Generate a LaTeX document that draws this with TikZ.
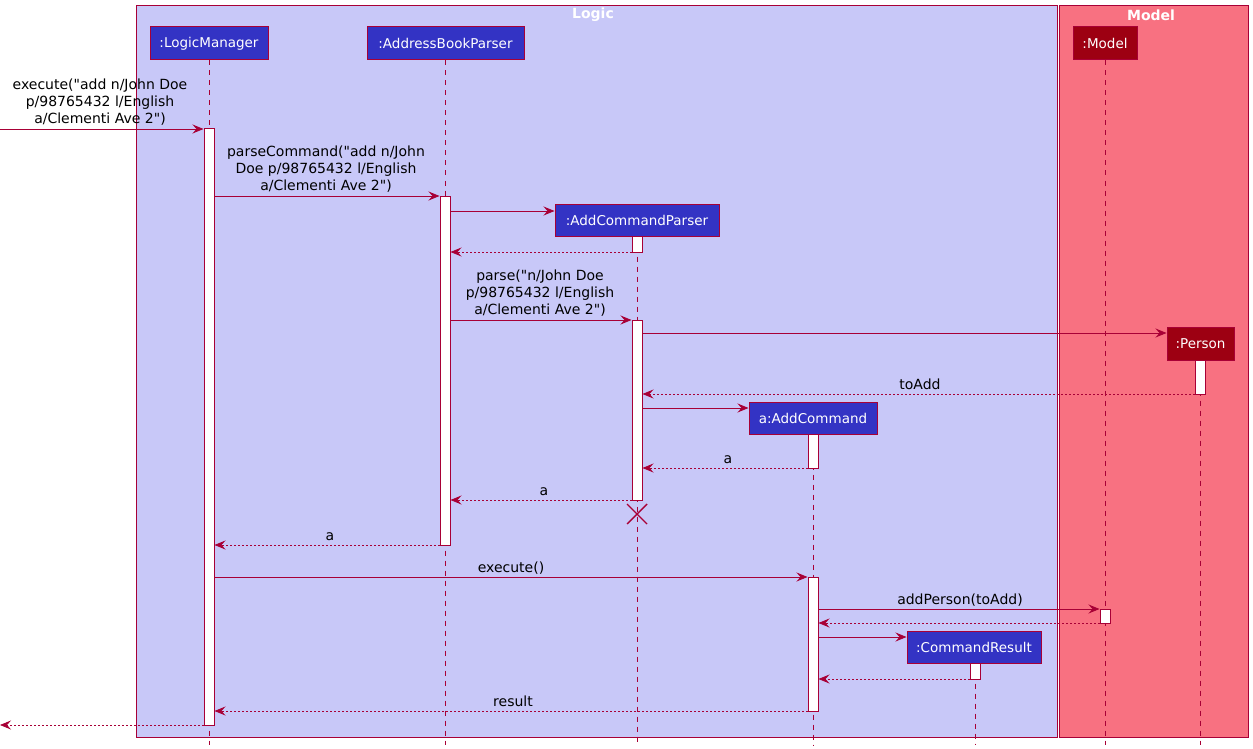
\documentclass[tikz,border=0pt]{standalone}
\usepackage{fontspec}
\setmainfont{DejaVu Sans}
\usetikzlibrary{arrows.meta}
\definecolor{bord}{HTML}{A80036}
\definecolor{logicbg}{HTML}{C8C8F8}
\definecolor{modelbg}{HTML}{F87181}
\definecolor{lpartc}{HTML}{3333C4}
\definecolor{mpartc}{HTML}{9D0012}
\newcommand{\qq}{\textquotedbl}
\tikzset{
  frame/.style={draw=bord, line width=1pt},
  ftitle/.style={text=white, font=\fontsize{14}{16}\selectfont\bfseries},
  part/.style={draw=bord, line width=1pt, text=white, minimum height=33pt, inner xsep=6pt, inner ysep=0pt, font=\fontsize{13.5}{16}\selectfont},
  lpart/.style={part, fill=lpartc},
  mpart/.style={part, fill=mpartc},
  life/.style={draw=bord, line width=0.8pt, dash pattern=on 5pt off 5pt},
  act/.style={draw=bord, fill=white, line width=1pt, minimum width=10pt, inner sep=0pt},
  msg/.style={draw=bord, line width=0.8pt, -{Stealth[length=11pt,width=9pt,inset=4pt]}},
  ret/.style={msg, dash pattern=on 2pt off 2pt},
  mlbl/.style={align=center, inner sep=0pt, anchor=south},
  slbl/.style={inner sep=0pt, anchor=base},
}
\begin{document}
\begin{tikzpicture}[x=1pt, y=-1pt, font=\fontsize{14}{17}\selectfont]
\useasboundingbox (0,0) rectangle (1253,749);
% frames
\filldraw[frame, fill=logicbg] (136,6) rectangle (1057,737);
\filldraw[frame, fill=modelbg] (1059,6) rectangle (1248,737);
\node[ftitle] (tlogic) at (593,15) {Logic};
\node[ftitle] (tmodel) at (1151,15) {Model};
% participants
\node[lpart, minimum width=118pt] (lm) at (209,43.5) {:LogicManager};
\node[lpart, minimum width=157pt] (abp) at (445.5,43.5) {:AddressBookParser};
\node[lpart, minimum width=164pt, minimum height=32pt] (acp) at (637,220) {:AddCommandParser};
\node[lpart, minimum width=128pt, minimum height=32pt] (ac) at (813,418) {a:AddCommand};
\node[lpart, minimum width=134pt, minimum height=32pt] (cr) at (974,647) {:CommandResult};
\node[mpart, minimum width=64pt] (mod) at (1105,43.5) {:Model};
\node[mpart, minimum width=67pt] (per) at (1200.5,343.5) {:Person};
% lifeline ends
\coordinate (lmE) at (209,745);
\coordinate (abpE) at (445,745);
\coordinate (acpE) at (637,745);
\coordinate (acE) at (813,745);
\coordinate (crE) at (975,745);
\coordinate (modE) at (1105,745);
\coordinate (perE) at (1200,745);
\draw[life] (lm.south -| lmE) -- (lmE);
\draw[life] (abp.south -| abpE) -- (abpE);
\draw[life] (acp.south -| acpE) -- (acpE);
\draw[life] (ac.south -| acE) -- (acE);
\draw[life] (cr.south -| crE) -- (crE);
\draw[life] (mod.south -| modE) -- (modE);
\draw[life] (per.south -| perE) -- (perE);
% activations
\node[act, minimum height=596pt] (lm1) at (209,427) {};
\node[act, minimum height=349pt] (abp1) at (445,370.5) {};
\node[act, minimum height=16pt] (acp1) at (637,244) {};
\node[act, minimum height=180pt] (acp2) at (637,410) {};
\node[act, minimum height=34pt] (per1) at (1200,377) {};
\node[act, minimum height=34pt] (ac1) at (813,451) {};
\node[act, minimum height=134pt] (ac2) at (813,644) {};
\node[act, minimum height=14pt] (mod1) at (1105,616) {};
\node[act, minimum height=16pt] (cr1) at (975,671) {};
% destroy
\coordinate (x1) at (627,504);
\coordinate (x2) at (647,524);
\coordinate (x3) at (627,524);
\coordinate (x4) at (647,504);
\draw[draw=bord, line width=1.4pt] (x1) -- (x2) (x3) -- (x4);
% messages
\coordinate (in) at (0,129);
\coordinate (out) at (0,725);
\draw[msg] (in) -- (lm1.west |- in);
\node[mlbl] (l1) at (100,126) {execute(\qq add n/John Doe\\p/98765432 l/English\\a/Clementi Ave 2\qq)};
\draw[msg] (lm1.east |- 0,196) -- (abp1.west |- 0,196);
\node[mlbl] (l2) at (326,193) {parseCommand(\qq add n/John\\Doe p/98765432 l/English\\a/Clementi Ave 2\qq)};
\draw[msg] (abp1.east |- 0,211) -- (acp.west |- 0,211);
\draw[ret] (acp1.west |- 0,252) -- (abp1.east |- 0,252);
\draw[msg] (abp1.east |- 0,320) -- (acp2.west |- 0,320);
\node[mlbl] (l3) at (540,317) {parse(\qq n/John Doe\\p/98765432 l/English\\a/Clementi Ave 2\qq)};
\draw[msg] (acp2.east |- 0,333) -- (per.west |- 0,333);
\draw[ret] (per1.west |- 0,394) -- (acp2.east |- 0,394);
\node[slbl] (l4) at (920,389) {toAdd};
\draw[msg] (acp2.east |- 0,408) -- (ac.west |- 0,408);
\draw[ret] (ac1.west |- 0,468) -- (acp2.east |- 0,468);
\node[slbl] (l5) at (728,463) {a};
\draw[ret] (acp2.west |- 0,500) -- (abp1.east |- 0,500);
\node[slbl] (l6) at (544,495) {a};
\draw[ret] (abp1.west |- 0,545) -- (lm1.east |- 0,545);
\node[slbl] (l7) at (330,540) {a};
\draw[msg] (lm1.east |- 0,577) -- (ac2.west |- 0,577);
\node[slbl] (l8) at (511,572) {execute()};
\draw[msg] (ac2.east |- 0,609) -- (mod1.west |- 0,609);
\node[slbl] (l9) at (960,604) {addPerson(toAdd)};
\draw[ret] (mod1.west |- 0,623) -- (ac2.east |- 0,623);
\draw[msg] (ac2.east |- 0,637) -- (cr.west |- 0,637);
\draw[ret] (cr1.west |- 0,679) -- (ac2.east |- 0,679);
\draw[ret] (ac2.west |- 0,711) -- (lm1.east |- 0,711);
\node[slbl] (l10) at (513,706) {result};
\draw[ret] (lm1.west |- out) -- (out);
\end{tikzpicture}
\end{document}
